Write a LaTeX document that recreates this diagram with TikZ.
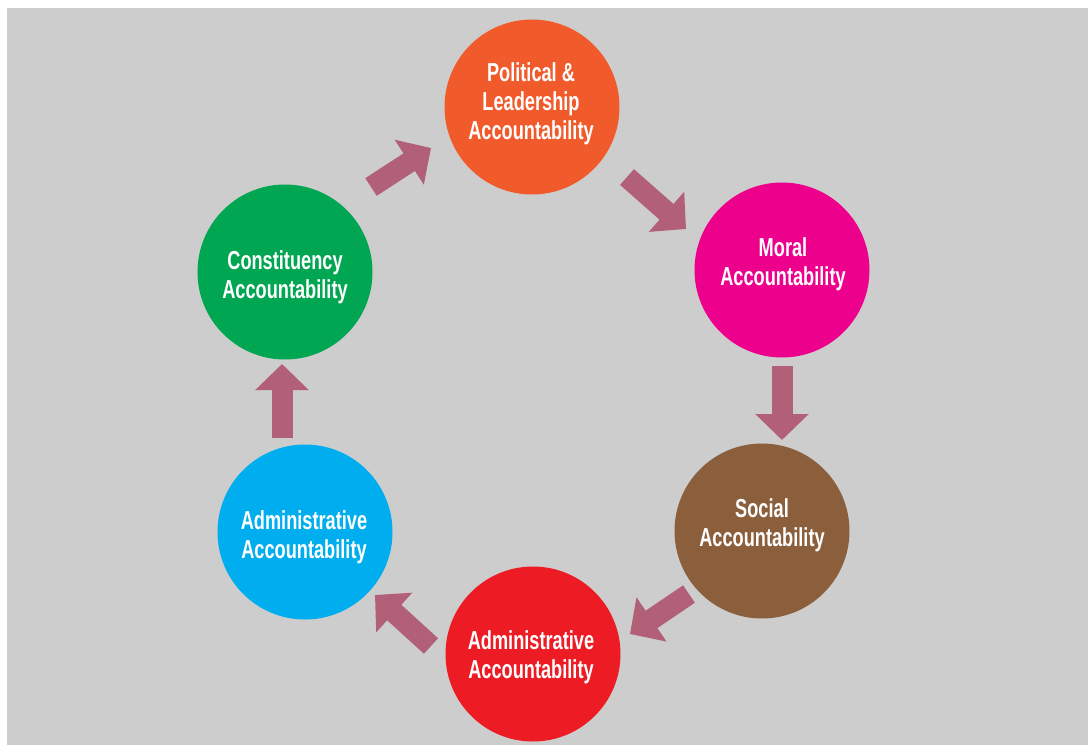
\documentclass[tikz,border=0pt]{standalone}
\usepackage{fontspec}
\newfontfamily\cond{Liberation Sans}[FakeStretch=0.70]
\usetikzlibrary{arrows.meta}
\definecolor{bggray}{HTML}{CDCDCD}
\definecolor{arrowc}{HTML}{B25F78}
\definecolor{corange}{HTML}{F15A2B}
\definecolor{cmagenta}{HTML}{EC008C}
\definecolor{cbrown}{HTML}{8B5E3C}
\definecolor{cred}{HTML}{ED1C24}
\definecolor{cblue}{HTML}{00AEEF}
\definecolor{cgreen}{HTML}{00A651}
\tikzset{
  circ/.style={circle, minimum size=175pt, inner sep=0pt},
  lbl/.style={text=white, align=center, inner sep=0pt,
    font=\cond\bfseries\fontsize{26}{29}\selectfont},
  arr/.style={draw=arrowc, line width=21pt, -{Triangle[width=52pt,length=26pt,fill=arrowc]}}
}
\begin{document}
\begin{tikzpicture}[x=1pt,y=-1pt]
\useasboundingbox (0,0) rectangle (1088,745);
\fill[white] (0,0) rectangle (1088,745);
\fill[bggray] (7,8) rectangle (1088,745);
\node[circ, fill=corange] (pol) at (532,107) {};
\node[circ, fill=cmagenta] (mor) at (782,270) {};
\node[circ, fill=cbrown] (soc) at (762,531) {};
\node[circ, fill=cred] (adr) at (533,654) {};
\node[circ, fill=cblue] (adb) at (305,532) {};
\node[circ, fill=cgreen] (con) at (285,272) {};
\node[lbl] (tpol) at (531,104) {Political \&\\Leadership\\Accountability};
\node[lbl] (tmor) at (783,264) {Moral\\Accountability};
\node[lbl] (tsoc) at (762,525) {Social\\Accountability};
\node[lbl] (tadr) at (531,657) {Administrative\\Accountability};
\node[lbl] (tadb) at (304,537) {Administrative\\Accountability};
\node[lbl] (tcon) at (285,277) {Constituency\\Accountability};
\coordinate (a1s) at (371,187); \coordinate (a1e) at (431,148);
\coordinate (a2s) at (627,177); \coordinate (a2e) at (686,229);
\coordinate (a3s) at (782,366); \coordinate (a3e) at (782,440);
\coordinate (a4s) at (689,594); \coordinate (a4e) at (630,634);
\coordinate (a5s) at (431,646); \coordinate (a5e) at (375,595);
\coordinate (a6s) at (282,438); \coordinate (a6e) at (282,364);
\draw[arr] (a1s) -- (a1e);
\draw[arr] (a2s) -- (a2e);
\draw[arr] (a3s) -- (a3e);
\draw[arr] (a4s) -- (a4e);
\draw[arr] (a5s) -- (a5e);
\draw[arr] (a6s) -- (a6e);
\end{tikzpicture}
\end{document}
